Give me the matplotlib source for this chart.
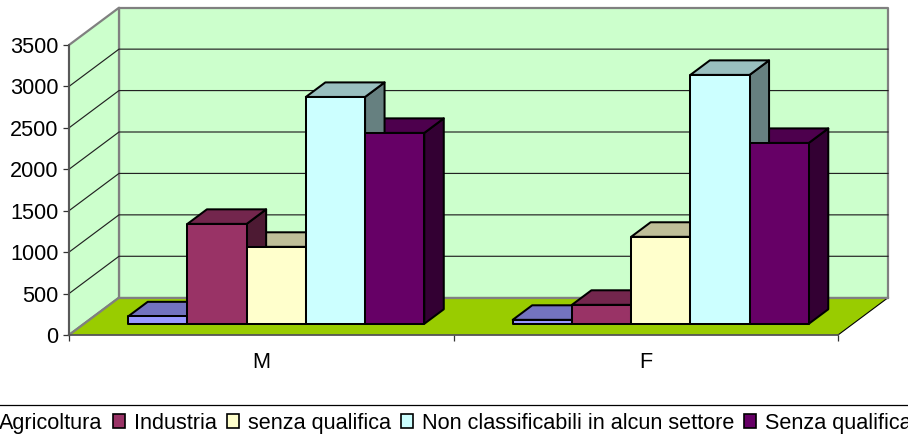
import matplotlib
matplotlib.use("Agg")

import matplotlib.pyplot as plt
from matplotlib.lines import Line2D
from matplotlib.patches import Patch, Polygon

plt.rcParams["font.family"] = ["Liberation Sans", "DejaVu Sans"]

groups = ["M", "F"]
series_names = ["Agricoltura", "Industria", "senza qualifica",
                "Non classificabili in alcun settore", "Senza qualifica"]
agricoltura = [90, 48]
industria = [1206, 229]
senza_qualifica_low = [929, 1050]
non_classificabili = [2738, 3004]
senza_qualifica = [2304, 2183]
series_values = [agricoltura, industria, senza_qualifica_low,
                 non_classificabili, senza_qualifica]
y_ticks = [0, 500, 1000, 1500, 2000, 2500, 3000, 3500]

colors = ["#9999FF", "#993366", "#FFFFCC", "#CCFFFF", "#660066"]

# fake 3d: how far the back wall is shifted from the axis plane, in data units
DEPTH_X = 0.13
DEPTH_Y = 450
BAR_W = 0.154
FONT = 15.6


def shade(color, factor):
    r, g, b = matplotlib.colors.to_rgb(color)
    return (r * factor, g * factor, b * factor)


def proj(x, y, d):
    return (x + d * DEPTH_X, y + d * DEPTH_Y)


def face(ax, pts, color, z, edge="black", lw=1.45):
    ax.add_patch(Polygon(pts, closed=True, facecolor=color, edgecolor=edge,
                         linewidth=lw, joinstyle="round", zorder=z, clip_on=False))


fig = plt.figure(figsize=(9.08, 4.36), dpi=100)
ax = fig.add_axes([69 / 908, 101 / 436, 769 / 908, 290 / 436])
ax.set_xlim(0, 2)
ax.set_ylim(0, 3500)
for s in ["top", "right"]:
    ax.spines[s].set_visible(False)
for s in ["left", "bottom"]:
    ax.spines[s].set_color("#555555")
    ax.spines[s].set_linewidth(1.3)
    ax.spines[s].set_zorder(3)
ax.patch.set_visible(False)

# walls and floor
top = y_ticks[-1]
face(ax, [proj(0, 0, 1), proj(2, 0, 1), proj(2, top, 1), proj(0, top, 1)],
     "#CCFFCC", 1, "#808080", 1.6)
face(ax, [proj(0, 0, 0), proj(0, 0, 1), proj(0, top, 1), proj(0, top, 0)],
     "#CCFFCC", 1, "#808080", 1.6)
face(ax, [proj(0, 0, 0), proj(2, 0, 0), proj(2, 0, 1), proj(0, 0, 1)],
     "#99CC00", 2, "none", 0)
ax.plot(*zip(proj(2, 0, 0), proj(2, 0, 1)), color="black", lw=0.8, zorder=2, clip_on=False)
ax.plot(*zip(proj(0, 0, 1), proj(2, 0, 1)), color="#808080", lw=1.6, zorder=2, clip_on=False)
ax.plot(*zip(proj(0, 0, 0), proj(0, 0, 1)), color="#808080", lw=1.6, zorder=2, clip_on=False)

# gridlines
for v in y_ticks[1:-1]:
    ax.plot(*zip(proj(0, v, 0), proj(0, v, 1), proj(2, v, 1)),
            color="#222222", lw=0.85, zorder=1.5, clip_on=False)

# bars: sides and tops go right to left, fronts go on top of everything
d0, d1 = 0.3, 0.69
n = len(series_values)
for g in range(len(groups)):
    for i in range(n - 1, -1, -1):
        x0 = g + 0.5 + (i - n / 2) * BAR_W
        x1 = x0 + BAR_W
        v = series_values[i][g]
        face(ax, [proj(x1, 0, d0), proj(x1, 0, d1), proj(x1, v, d1), proj(x1, v, d0)],
             shade(colors[i], 0.5), 4)
        face(ax, [proj(x0, v, d0), proj(x1, v, d0), proj(x1, v, d1), proj(x0, v, d1)],
             shade(colors[i], 0.75), 4)
    for i in range(n):
        x0 = g + 0.5 + (i - n / 2) * BAR_W
        x1 = x0 + BAR_W
        v = series_values[i][g]
        face(ax, [proj(x0, 0, d0), proj(x1, 0, d0), proj(x1, v, d0), proj(x0, v, d0)],
             colors[i], 5)

ax.set_yticks(y_ticks)
ax.tick_params(axis="y", length=4.3, width=0.9, color="#333333", pad=3.4, labelsize=FONT)
ax.set_xticks([0, 1, 2])
ax.set_xticklabels([])
ax.set_xticks([0.5, 1.5], minor=True)
ax.set_xticklabels(groups, minor=True)
ax.tick_params(axis="x", which="major", length=4.3, width=0.9, color="#333333")
ax.tick_params(axis="x", which="minor", length=0, pad=12, labelsize=FONT)

# legend runs wider than the figure, its ends get cut off like in the original
fig.add_artist(Line2D([0, 1], [31 / 436, 31 / 436], color="black", lw=0.9))
handles = [Patch(facecolor=c, edgecolor="black", linewidth=1.2) for c in colors]
fig.legend(handles, series_names, loc="center", bbox_to_anchor=(0.5 - 9 / 908, 13 / 436),
           ncol=5, frameon=False, fontsize=FONT, handlelength=0.55, handleheight=0.58,
           handletextpad=0.42, columnspacing=0.46, borderpad=0, borderaxespad=0)

fig.savefig("out.png", dpi=100)
plt.close(fig)
